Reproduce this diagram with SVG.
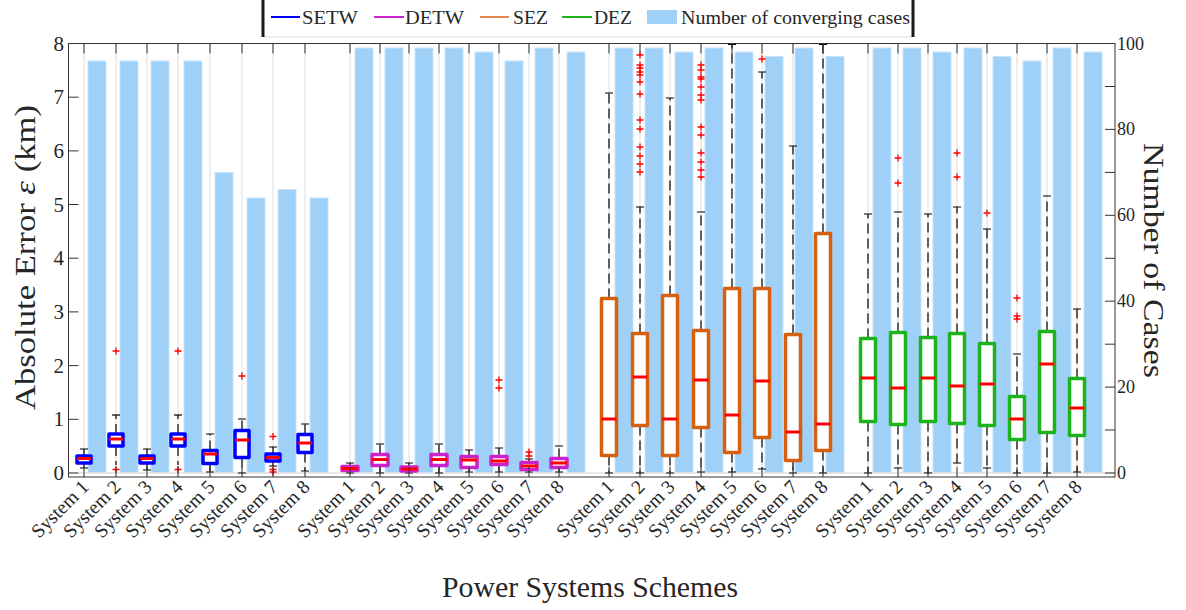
<svg xmlns="http://www.w3.org/2000/svg" xmlns:xlink="http://www.w3.org/1999/xlink" width="1186" height="610" viewBox="0 0 1186 610">
<style>
text{font-family:"Liberation Serif","DejaVu Serif",serif;fill:#262626}
.grid{stroke:#e9e9e9;stroke-width:1.5}
.bar{fill:#9fd0f8;stroke:#c6e3fb;stroke-width:1}
.ax{stroke:#333;stroke-width:1;fill:none}
.b1,.b2,.b3,.b4{fill:#fff;stroke-width:3.5;stroke-linejoin:round}
.b1{stroke:#0000ff}.b2{stroke:#cc22cc}.b3{stroke:#d6600f}.b4{stroke:#1db31d}
.med{stroke:#ff0000;stroke-width:3}
.wh{stroke:#000;stroke-width:1.2;stroke-dasharray:10 5;fill:none}
.cap{stroke:#000;stroke-width:1.2}
.yl{font-size:21px;text-anchor:end}
.yr{font-size:18px}
.xl{font-size:19.5px;text-anchor:end}
.ttl{font-size:30px;text-anchor:middle}
.lg{font-size:19px}
</style>
<defs>
<path id="p" d="M-3.5 0H3.5M0 -3.5V3.5" stroke="#ff0000" stroke-width="1.3"/>
</defs>

<g id="grid">
<path class="grid" d="M84 43.5V477M116 43.5V477M147 43.5V477M178 43.5V477M210 43.5V477M242 43.5V477M273 43.5V477M305 43.5V477M350 43.5V477M380 43.5V477M409 43.5V477M439 43.5V477M469 43.5V477M499 43.5V477M529 43.5V477M559 43.5V477M609 43.5V477M640 43.5V477M670 43.5V477M701 43.5V477M732 43.5V477M762 43.5V477M793 43.5V477M823 43.5V477M868 43.5V477M898 43.5V477M928 43.5V477M957 43.5V477M987 43.5V477M1017 43.5V477M1047 43.5V477M1077 43.5V477"/>
</g>

<g id="bars">
<rect class="bar" x="88" y="61" width="18" height="412"/>
<rect class="bar" x="120" y="61" width="18" height="412"/>
<rect class="bar" x="151" y="61" width="18" height="412"/>
<rect class="bar" x="184" y="61" width="18" height="412"/>
<rect class="bar" x="215" y="172.5" width="18" height="300.5"/>
<rect class="bar" x="247" y="198" width="18" height="275"/>
<rect class="bar" x="278" y="189.5" width="18" height="283.5"/>
<rect class="bar" x="310" y="198" width="18" height="275"/>
<rect class="bar" x="355" y="48" width="18" height="425"/>
<rect class="bar" x="385" y="48" width="18" height="425"/>
<rect class="bar" x="415" y="48" width="18" height="425"/>
<rect class="bar" x="445" y="48" width="18" height="425"/>
<rect class="bar" x="475" y="52" width="18" height="421"/>
<rect class="bar" x="505" y="61" width="18" height="412"/>
<rect class="bar" x="535" y="48" width="18" height="425"/>
<rect class="bar" x="567" y="52" width="18" height="421"/>
<rect class="bar" x="615" y="48" width="18" height="425"/>
<rect class="bar" x="645" y="48" width="18" height="425"/>
<rect class="bar" x="675" y="52" width="18" height="421"/>
<rect class="bar" x="705" y="48" width="18" height="425"/>
<rect class="bar" x="735" y="52" width="18" height="421"/>
<rect class="bar" x="765" y="56.5" width="18" height="416.5"/>
<rect class="bar" x="795" y="48" width="18" height="425"/>
<rect class="bar" x="826" y="56.5" width="18" height="416.5"/>
<rect class="bar" x="873" y="48" width="18" height="425"/>
<rect class="bar" x="903" y="48" width="18" height="425"/>
<rect class="bar" x="933" y="52" width="18" height="421"/>
<rect class="bar" x="964" y="48" width="18" height="425"/>
<rect class="bar" x="993" y="56.5" width="18" height="416.5"/>
<rect class="bar" x="1023" y="61" width="18" height="412"/>
<rect class="bar" x="1053" y="48" width="18" height="425"/>
<rect class="bar" x="1084" y="52" width="18" height="421"/>
<path d="M68.5 473H1115" stroke="#e2e2e2" stroke-width="1.5"/>
</g>

<!-- SETW -->
<g id="setw1"><path class="wh" d="M84 456V449M84 463V468"/><path class="cap" d="M80 449H88M80 468H88"/><rect class="b1" x="77" y="456" width="14" height="7"/><path class="med" d="M77 458.5H91"/></g>
<g id="setw2"><path class="wh" d="M116 434V415M116 446V465"/><path class="cap" d="M112 415H120"/><rect class="b1" x="109" y="434" width="14" height="12"/><path class="med" d="M109 439H123"/><use xlink:href="#p" x="116" y="351"/><use xlink:href="#p" x="116" y="469.5"/></g>
<g id="setw3"><path class="wh" d="M147 456V449M147 463V470"/><path class="cap" d="M143 449H151M143 470H151"/><rect class="b1" x="140" y="456" width="14" height="7"/><path class="med" d="M140 458.5H154"/></g>
<g id="setw4"><path class="wh" d="M178 434V415M178 446V465"/><path class="cap" d="M174 415H182"/><rect class="b1" x="171" y="434" width="14" height="12"/><path class="med" d="M171 439H185"/><use xlink:href="#p" x="178" y="351"/><use xlink:href="#p" x="178" y="469.5"/></g>
<g id="setw5"><path class="wh" d="M210 450.5V434M210 463.5V472"/><path class="cap" d="M206 434H214M206 472H214"/><rect class="b1" x="203" y="450.5" width="14" height="13"/><path class="med" d="M203 454H217"/></g>
<g id="setw6"><path class="wh" d="M242 430.5V419M242 457.5V473"/><path class="cap" d="M238 419H246M238 473H246"/><rect class="b1" x="235" y="430.5" width="14" height="27"/><path class="med" d="M235 440H249"/><use xlink:href="#p" x="242" y="376"/></g>
<g id="setw7"><path class="wh" d="M273 454V447M273 461V466"/><path class="cap" d="M269 447H277M269 466H277"/><rect class="b1" x="266" y="454" width="14" height="7"/><path class="med" d="M266 457.5H280"/><use xlink:href="#p" x="273" y="436.5"/><use xlink:href="#p" x="273" y="469.5"/><use xlink:href="#p" x="273" y="472"/></g>
<g id="setw8"><path class="wh" d="M305 434.5V424M305 452.5V471"/><path class="cap" d="M301 424H309M301 471H309"/><rect class="b1" x="298" y="434.5" width="14" height="18"/><path class="med" d="M298 443H312"/></g>

<!-- DETW -->
<g id="detw1"><path class="wh" d="M350 466.5V463M350 470.5V473"/><path class="cap" d="M346 463H354M346 473H354"/><rect class="b2" x="342" y="466.5" width="16" height="4"/><path class="med" d="M342 468.5H358"/></g>
<g id="detw2"><path class="wh" d="M380 454.5V444M380 465.5V473"/><path class="cap" d="M376 444H384M376 473H384"/><rect class="b2" x="372" y="454.5" width="16" height="11"/><path class="med" d="M372 459.5H388"/></g>
<g id="detw3"><path class="wh" d="M409 467V463M409 471V473"/><path class="cap" d="M405 463H413M405 473H413"/><rect class="b2" x="401" y="467" width="16" height="4"/><path class="med" d="M401 469H417"/></g>
<g id="detw4"><path class="wh" d="M439 454.5V444M439 465.5V473"/><path class="cap" d="M435 444H443M435 473H443"/><rect class="b2" x="431" y="454.5" width="16" height="11"/><path class="med" d="M431 459.5H447"/></g>
<g id="detw5"><path class="wh" d="M469 456.5V450M469 467.5V472"/><path class="cap" d="M465 450H473M465 472H473"/><rect class="b2" x="461" y="456.5" width="16" height="11"/><path class="med" d="M461 460H477"/></g>
<g id="detw6"><path class="wh" d="M499 456.5V448M499 464.5V472"/><path class="cap" d="M495 448H503M495 472H503"/><rect class="b2" x="491" y="456.5" width="16" height="8"/><path class="med" d="M491 461H507"/><use xlink:href="#p" x="499" y="380"/><use xlink:href="#p" x="499" y="388"/></g>
<g id="detw7"><path class="wh" d="M529 462.5V459M529 469.5V472"/><path class="cap" d="M525 459H533M525 472H533"/><rect class="b2" x="521" y="462.5" width="16" height="7"/><path class="med" d="M521 466H537"/><use xlink:href="#p" x="529" y="452"/><use xlink:href="#p" x="529" y="456"/></g>
<g id="detw8"><path class="wh" d="M559 458.5V446M559 467.5V472"/><path class="cap" d="M555 446H563M555 472H563"/><rect class="b2" x="551" y="458.5" width="16" height="9"/><path class="med" d="M551 463H567"/></g>

<!-- SEZ -->
<g id="sez1"><path class="wh" d="M609 298.5V93M609 455.5V473"/><path class="cap" d="M605 93H613M605 473H613"/><rect class="b3" x="601.5" y="298.5" width="15" height="157"/><path class="med" d="M601.5 419H616.5"/></g>
<g id="sez2"><path class="wh" d="M640 333.5V207M640 425.5V473"/><path class="cap" d="M636 207H644M636 473H644"/><rect class="b3" x="632.5" y="333.5" width="15" height="92"/><path class="med" d="M632.5 377H647.5"/>
<use xlink:href="#p" x="640" y="55"/><use xlink:href="#p" x="640" y="65"/><use xlink:href="#p" x="640" y="68"/><use xlink:href="#p" x="640" y="72"/><use xlink:href="#p" x="640" y="75"/><use xlink:href="#p" x="640" y="82"/><use xlink:href="#p" x="640" y="94"/><use xlink:href="#p" x="640" y="120"/><use xlink:href="#p" x="640" y="129"/><use xlink:href="#p" x="640" y="147"/><use xlink:href="#p" x="640" y="156"/><use xlink:href="#p" x="640" y="164"/><use xlink:href="#p" x="640" y="172"/></g>
<g id="sez3"><path class="wh" d="M670 295.5V98M670 455.5V473"/><path class="cap" d="M666 98H674M666 473H674"/><rect class="b3" x="662.5" y="295.5" width="15" height="160"/><path class="med" d="M662.5 419H677.5"/></g>
<g id="sez4"><path class="wh" d="M701 330.5V212M701 427.5V472"/><path class="cap" d="M697 212H705M697 472H705"/><rect class="b3" x="693.5" y="330.5" width="15" height="97"/><path class="med" d="M693.5 380H708.5"/>
<use xlink:href="#p" x="701" y="65"/><use xlink:href="#p" x="701" y="70"/><use xlink:href="#p" x="701" y="77"/><use xlink:href="#p" x="701" y="79"/><use xlink:href="#p" x="701" y="87"/><use xlink:href="#p" x="701" y="95"/><use xlink:href="#p" x="701" y="100"/><use xlink:href="#p" x="701" y="127"/><use xlink:href="#p" x="701" y="135"/><use xlink:href="#p" x="701" y="153"/><use xlink:href="#p" x="701" y="162"/><use xlink:href="#p" x="701" y="170"/><use xlink:href="#p" x="701" y="177"/></g>
<g id="sez5"><path class="wh" d="M732 288.5V44.5M732 452.5V472"/><path class="cap" d="M728 44.5H736M728 472H736"/><rect class="b3" x="724.5" y="288.5" width="15" height="164"/><path class="med" d="M724.5 415H739.5"/></g>
<g id="sez6"><path class="wh" d="M762 288.5V72M762 437.5V469"/><path class="cap" d="M758 72H766M758 469H766"/><rect class="b3" x="754.5" y="288.5" width="15" height="149"/><path class="med" d="M754.5 381H769.5"/><use xlink:href="#p" x="762" y="59"/></g>
<g id="sez7"><path class="wh" d="M793 334.5V146M793 460.5V473"/><path class="cap" d="M789 146H797M789 473H797"/><rect class="b3" x="785.5" y="334.5" width="15" height="126"/><path class="med" d="M785.5 432H800.5"/></g>
<g id="sez8"><path class="wh" d="M823 233.5V44.5M823 450.5V473"/><path class="cap" d="M819 44.5H827M819 473H827"/><rect class="b3" x="815.5" y="233.5" width="15" height="217"/><path class="med" d="M815.5 424H830.5"/></g>

<!-- DEZ -->
<g id="dez1"><path class="wh" d="M868 338.5V214M868 421.5V473"/><path class="cap" d="M864 214H872M864 473H872"/><rect class="b4" x="860.5" y="338.5" width="15" height="83"/><path class="med" d="M860.5 378H875.5"/></g>
<g id="dez2"><path class="wh" d="M898 332.5V212M898 424.5V468"/><path class="cap" d="M894 212H902M894 468H902"/><rect class="b4" x="890.5" y="332.5" width="15" height="92"/><path class="med" d="M890.5 388H905.5"/><use xlink:href="#p" x="898" y="158"/><use xlink:href="#p" x="898" y="183"/></g>
<g id="dez3"><path class="wh" d="M928 337.5V214M928 421.5V473"/><path class="cap" d="M924 214H932M924 473H932"/><rect class="b4" x="920.5" y="337.5" width="15" height="84"/><path class="med" d="M920.5 378H935.5"/></g>
<g id="dez4"><path class="wh" d="M957 333.5V207M957 423.5V463"/><path class="cap" d="M953 207H961M953 463H961"/><rect class="b4" x="949.5" y="333.5" width="15" height="90"/><path class="med" d="M949.5 386H964.5"/><use xlink:href="#p" x="957" y="153"/><use xlink:href="#p" x="957" y="177"/></g>
<g id="dez5"><path class="wh" d="M987 343.5V229M987 425.5V468"/><path class="cap" d="M983 229H991M983 468H991"/><rect class="b4" x="979.5" y="343.5" width="15" height="82"/><path class="med" d="M979.5 384H994.5"/><use xlink:href="#p" x="987" y="213"/></g>
<g id="dez6"><path class="wh" d="M1017 396.5V354M1017 439.5V473"/><path class="cap" d="M1013 354H1021M1013 473H1021"/><rect class="b4" x="1009.5" y="396.5" width="15" height="43"/><path class="med" d="M1009.5 419H1024.5"/><use xlink:href="#p" x="1017" y="298"/><use xlink:href="#p" x="1017" y="316"/><use xlink:href="#p" x="1017" y="319"/></g>
<g id="dez7"><path class="wh" d="M1047 331.5V196M1047 432.5V473"/><path class="cap" d="M1043 196H1051M1043 473H1051"/><rect class="b4" x="1039.5" y="331.5" width="15" height="101"/><path class="med" d="M1039.5 364H1054.5"/></g>
<g id="dez8"><path class="wh" d="M1077 378.5V309M1077 435.5V472"/><path class="cap" d="M1073 309H1081M1073 472H1081"/><rect class="b4" x="1069.5" y="378.5" width="15" height="57"/><path class="med" d="M1069.5 408H1084.5"/></g>

<g id="axes">
<rect class="ax" x="68.5" y="43.5" width="1046.5" height="433.5"/>
<path class="ax" d="M68.5 473H78.5M68.5 419.3H78.5M68.5 365.6H78.5M68.5 311.9H78.5M68.5 258.2H78.5M68.5 204.5H78.5M68.5 150.9H78.5M68.5 97.2H78.5M68.5 43.5H78.5"/>
<path class="ax" d="M1105 473H1115M1105 430H1115M1105 387.1H1115M1105 344.2H1115M1105 301.2H1115M1105 258.3H1115M1105 215.3H1115M1105 172.4H1115M1105 129.4H1115M1105 86.5H1115M1105 43.5H1115"/>
<path class="ax" d="M84 43.5V53.5M116 43.5V53.5M147 43.5V53.5M178 43.5V53.5M210 43.5V53.5M242 43.5V53.5M273 43.5V53.5M305 43.5V53.5M350 43.5V53.5M380 43.5V53.5M409 43.5V53.5M439 43.5V53.5M469 43.5V53.5M499 43.5V53.5M529 43.5V53.5M559 43.5V53.5M609 43.5V53.5M640 43.5V53.5M670 43.5V53.5M701 43.5V53.5M732 43.5V53.5M762 43.5V53.5M793 43.5V53.5M823 43.5V53.5M868 43.5V53.5M898 43.5V53.5M928 43.5V53.5M957 43.5V53.5M987 43.5V53.5M1017 43.5V53.5M1047 43.5V53.5M1077 43.5V53.5"/>
<path class="ax" d="M84 477V467M116 477V467M147 477V467M178 477V467M210 477V467M242 477V467M273 477V467M305 477V467M350 477V467M380 477V467M409 477V467M439 477V467M469 477V467M499 477V467M529 477V467M559 477V467M609 477V467M640 477V467M670 477V467M701 477V467M732 477V467M762 477V467M793 477V467M823 477V467M868 477V467M898 477V467M928 477V467M957 477V467M987 477V467M1017 477V467M1047 477V467M1077 477V467"/>
<text class="yl" x="64" y="480">0</text>
<text class="yl" x="64" y="426.3">1</text>
<text class="yl" x="64" y="372.6">2</text>
<text class="yl" x="64" y="318.9">3</text>
<text class="yl" x="64" y="265.2">4</text>
<text class="yl" x="64" y="211.5">5</text>
<text class="yl" x="64" y="157.9">6</text>
<text class="yl" x="64" y="104.2">7</text>
<text class="yl" x="64" y="50.5">8</text>
<text class="yr" x="1117" y="479">0</text>
<text class="yr" x="1117" y="393.1">20</text>
<text class="yr" x="1117" y="307.2">40</text>
<text class="yr" x="1117" y="221.3">60</text>
<text class="yr" x="1117" y="135.4">80</text>
<text class="yr" x="1117" y="49.5">100</text>
</g>

<g id="xlabels">
<text class="xl" transform="translate(90,488) rotate(-45)">System 1</text>
<text class="xl" transform="translate(122,488) rotate(-45)">System 2</text>
<text class="xl" transform="translate(153,488) rotate(-45)">System 3</text>
<text class="xl" transform="translate(184,488) rotate(-45)">System 4</text>
<text class="xl" transform="translate(216,488) rotate(-45)">System 5</text>
<text class="xl" transform="translate(248,488) rotate(-45)">System 6</text>
<text class="xl" transform="translate(279,488) rotate(-45)">System 7</text>
<text class="xl" transform="translate(311,488) rotate(-45)">System 8</text>
<text class="xl" transform="translate(356,488) rotate(-45)">System 1</text>
<text class="xl" transform="translate(386,488) rotate(-45)">System 2</text>
<text class="xl" transform="translate(415,488) rotate(-45)">System 3</text>
<text class="xl" transform="translate(445,488) rotate(-45)">System 4</text>
<text class="xl" transform="translate(475,488) rotate(-45)">System 5</text>
<text class="xl" transform="translate(505,488) rotate(-45)">System 6</text>
<text class="xl" transform="translate(535,488) rotate(-45)">System 7</text>
<text class="xl" transform="translate(565,488) rotate(-45)">System 8</text>
<text class="xl" transform="translate(615,488) rotate(-45)">System 1</text>
<text class="xl" transform="translate(646,488) rotate(-45)">System 2</text>
<text class="xl" transform="translate(676,488) rotate(-45)">System 3</text>
<text class="xl" transform="translate(707,488) rotate(-45)">System 4</text>
<text class="xl" transform="translate(738,488) rotate(-45)">System 5</text>
<text class="xl" transform="translate(768,488) rotate(-45)">System 6</text>
<text class="xl" transform="translate(799,488) rotate(-45)">System 7</text>
<text class="xl" transform="translate(829,488) rotate(-45)">System 8</text>
<text class="xl" transform="translate(874,488) rotate(-45)">System 1</text>
<text class="xl" transform="translate(904,488) rotate(-45)">System 2</text>
<text class="xl" transform="translate(934,488) rotate(-45)">System 3</text>
<text class="xl" transform="translate(963,488) rotate(-45)">System 4</text>
<text class="xl" transform="translate(993,488) rotate(-45)">System 5</text>
<text class="xl" transform="translate(1023,488) rotate(-45)">System 6</text>
<text class="xl" transform="translate(1053,488) rotate(-45)">System 7</text>
<text class="xl" transform="translate(1083,488) rotate(-45)">System 8</text>
</g>

<g id="titles">
<text class="ttl" transform="translate(35,257.5) rotate(-90)" textLength="305" lengthAdjust="spacingAndGlyphs">Absolute Error <tspan font-style="italic">ε</tspan> (km)</text>
<text class="ttl" transform="translate(1144,260.5) rotate(90)" textLength="235" lengthAdjust="spacingAndGlyphs">Number of Cases</text>
<text class="ttl" x="590" y="597" textLength="296" lengthAdjust="spacingAndGlyphs">Power Systems Schemes</text>
</g>

<g id="legend">
<rect x="263" y="-1" width="650" height="38" fill="#fff" stroke="#dcdcdc" stroke-width="1"/>
<path d="M263 0V37M913 0V37" stroke="#1a1a1a" stroke-width="3"/>
<path d="M271 17H300" stroke="#0000ff" stroke-width="2"/>
<text class="lg" x="302" y="24" textLength="56" lengthAdjust="spacingAndGlyphs">SETW</text>
<path d="M374 17H404" stroke="#cc22cc" stroke-width="2"/>
<text class="lg" x="405" y="24" textLength="59" lengthAdjust="spacingAndGlyphs">DETW</text>
<path d="M480 17H509" stroke="#e08a50" stroke-width="2"/>
<text class="lg" x="513" y="24" textLength="35" lengthAdjust="spacingAndGlyphs">SEZ</text>
<path d="M562 17H592" stroke="#1db31d" stroke-width="2"/>
<text class="lg" x="594" y="24" textLength="38" lengthAdjust="spacingAndGlyphs">DEZ</text>
<rect x="647" y="10" width="30" height="14" fill="#9fd0f8"/>
<text class="lg" x="681" y="24" textLength="229" lengthAdjust="spacingAndGlyphs">Number of converging cases</text>
</g>
</svg>
